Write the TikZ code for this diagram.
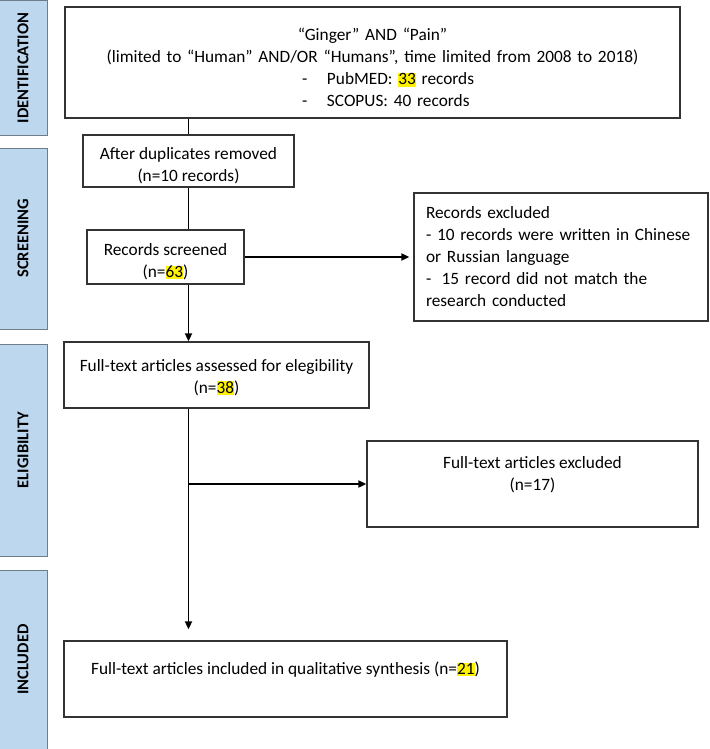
\documentclass[tikz,border=0pt]{standalone}
\usepackage{fontspec}
\setmainfont{Carlito}
\usetikzlibrary{arrows.meta}
\definecolor{bandblue}{RGB}{189,215,238}
\definecolor{bandline}{RGB}{110,125,140}
\newcommand\hlnum[1]{{\setlength\fboxsep{0pt}\colorbox{yellow}{\rule[-.12em]{0pt}{.8em}#1}}}
\tikzset{
  box/.style={draw=black!80, line width=1.3pt, inner sep=0pt},
  band/.style={draw=bandline, fill=bandblue, line width=1pt},
  link/.style={line width=1.8pt},
  arr/.style={line width=1.8pt, -{Triangle[length=8pt,width=7pt]}}
}

\begin{document}
\begin{tikzpicture}[x=1pt, y=-1pt, every node/.style={font=\fontsize{17.3}{22}\selectfont}]
\useasboundingbox (0,0) rectangle (709,749);
\foreach \a/\b/\t [count=\i] in {1/135/IDENTIFICATION, 148/329/SCREENING, 344/556/ELIGIBILITY, 570/749/INCLUDED} {
  \draw[band] (-2,\a) rectangle (47,\b);
  \node (stage\i) [rotate=90, font=\fontsize{16.5}{17}\bfseries\selectfont] at (23,{(\a+\b)/2}) {\t};
}

\node (search) [box, text width=615pt, text height=22pt, minimum height=111pt] at (372.5,62.5) {%
  {\centering “Ginger” AND “Pain”\\(limited to “Human” AND/OR “Humans”, time limited from 2008 to 2018)\par}
  \hspace*{237pt}\makebox[25pt][l]{-}PubMED: \hlnum{33} records\\
  \hspace*{237pt}\makebox[25pt][l]{-}SCOPUS: 40 records};
\node (dedup) [box, align=center, text height=43pt, minimum width=211pt, minimum height=52pt] at (188.5,161) {After duplicates removed\\(n=10 records)};
\node (screen) [box, align=center, text height=43pt, minimum width=157pt, minimum height=54pt] at (165.5,257) {Records screened\\(n=\hlnum{63})};
\node (excl1) [box, align=left, text width=270pt, inner xsep=12pt, minimum height=128pt] at (561,257) {Records excluded\\- 10 records were written in Chinese\\or Russian language\\-\hspace{.6em}15 record did not match the\\research conducted};
\node (elig) [box, align=center, text height=39pt, minimum width=305pt, minimum height=66pt] at (216.5,375) {Full-text articles assessed for elegibility\\(n=\hlnum{38})};
\node (excl2) [box, align=center, minimum width=331pt, minimum height=86pt] at (532.5,484) {Full-text articles excluded\\(n=17)\\\mbox{}};
\node (incl) [box, align=center, minimum width=443pt, minimum height=76pt] at (285.5,679) {Full-text articles included in qualitative synthesis (n=\hlnum{21})\\\mbox{}};

\coordinate (fork) at (dedup.south |- excl2.west);
\draw[link] (dedup.north |- search.south) -- (dedup.north);
\draw[link] (dedup.south) -- (dedup.south |- screen.north);
\draw[arr, shorten >=4pt] (screen) -- (excl1);
\draw[arr] (dedup.south |- screen.south) -- (dedup.south |- elig.north);
\draw[arr, shorten >=11pt] (dedup.south |- elig.south) -- (dedup.south |- incl.north);
\draw[arr] (fork) -- (excl2.west);
\end{tikzpicture}
\end{document}
